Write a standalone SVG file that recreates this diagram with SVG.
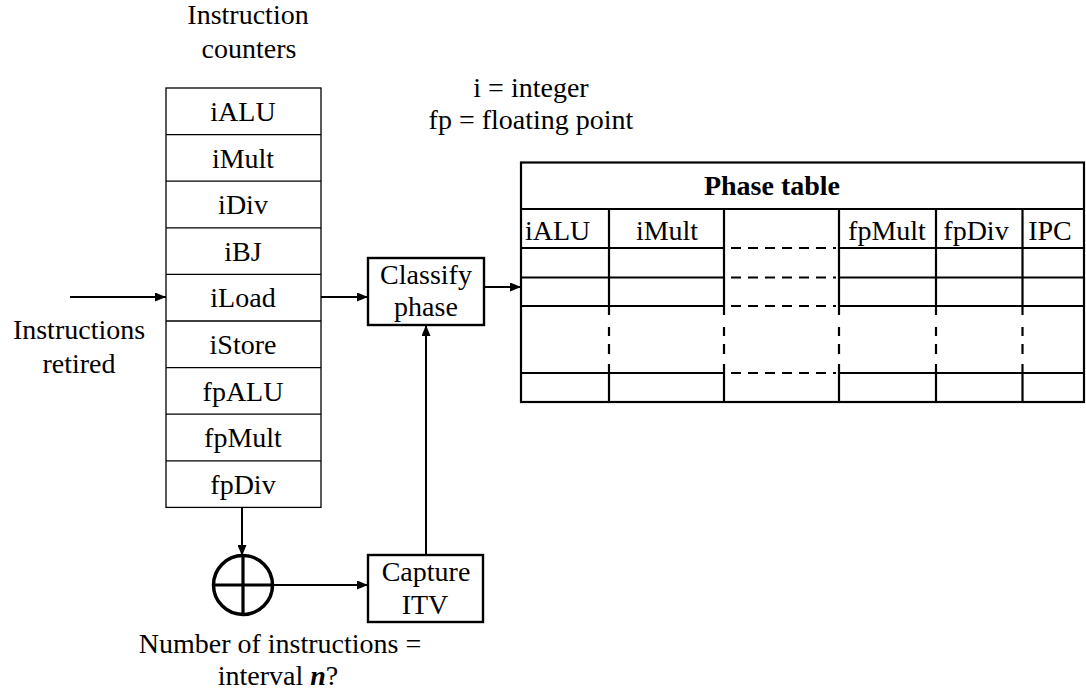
<svg xmlns="http://www.w3.org/2000/svg" width="1086" height="694" viewBox="0 0 1086 694" font-family="'Liberation Serif', 'DejaVu Serif', serif">
  <defs>
    <marker id="arrow" viewBox="0 0 11 9" refX="11" refY="4.5" markerWidth="11" markerHeight="9" markerUnits="userSpaceOnUse" orient="auto">
      <path d="M0,0 L11,4.5 L0,9 Z" fill="#000"/>
    </marker>
  </defs>
  <style>
    text { font-family: 'Liberation Serif', 'DejaVu Serif', serif; font-size: 28px; fill: #000; }
    .c { text-anchor: middle; }
    .b { font-weight: bold; }
    .thin { fill: none; stroke: #000; stroke-width: 1.3; }
    .box { fill: #fff; stroke: #000; stroke-width: 2.4; }
    .tl { fill: none; stroke: #000; stroke-width: 2.2; }
    .dash { fill: none; stroke: #000; stroke-width: 2.2; stroke-dasharray: 10 7; }
    .vdash { fill: none; stroke: #000; stroke-width: 2.2; stroke-dasharray: 9 12 9 8 10 10 10; }
    .wire { fill: none; stroke: #000; stroke-width: 2; }
  </style>
  <rect width="1086" height="694" fill="#fff"/>

  <!-- captions -->
  <g id="caption-counters">
    <text class="c" x="248" y="24">Instruction</text>
    <text class="c" x="249" y="58">counters</text>
  </g>
  <g id="legend">
    <text class="c" x="531" y="97">i = integer</text>
    <text class="c" x="531" y="129">fp  = floating point</text>
  </g>
  <g id="caption-input">
    <text class="c" x="79" y="339">Instructions</text>
    <text class="c" x="79" y="373">retired</text>
  </g>

  <!-- instruction counter stack -->
  <g id="counters">
    <rect class="thin" x="166" y="88" width="155" height="419.4"/>
    <path class="thin" d="M166,134.6H321 M166,181.2H321 M166,227.8H321 M166,274.4H321 M166,321H321 M166,367.6H321 M166,414.2H321 M166,460.8H321"/>
    <text class="c" x="243" y="121">iALU</text>
    <text class="c" x="243" y="168">iMult</text>
    <text class="c" x="243" y="214">iDiv</text>
    <text class="c" x="243" y="261">iBJ</text>
    <text class="c" x="243" y="307">iLoad</text>
    <text class="c" x="243" y="354">iStore</text>
    <text class="c" x="243" y="401">fpALU</text>
    <text class="c" x="243" y="447">fpMult</text>
    <text class="c" x="243" y="494">fpDiv</text>
  </g>

  <!-- classifier -->
  <g id="classify">
    <rect class="box" x="368" y="258" width="116" height="67"/>
    <text class="c" x="426" y="284">Classify</text>
    <text class="c" x="426" y="316">phase</text>
  </g>

  <!-- interval capture -->
  <g id="capture">
    <rect class="box" x="368" y="555" width="115" height="67"/>
    <text class="c" x="426" y="581">Capture</text>
    <text class="c" x="425" y="614">ITV</text>
  </g>

  <!-- summing junction -->
  <g id="adder">
    <circle cx="243" cy="585" r="29.5" fill="#fff" stroke="#000" stroke-width="3.5"/>
    <path d="M243,556V614 M214,585H272" stroke="#000" stroke-width="3.2"/>
    <text class="c" x="280" y="653">Number of instructions =</text>
    <text class="c" x="278" y="685">interval <tspan class="b" font-style="italic">n</tspan>?</text>
  </g>

  <!-- phase table -->
  <g id="phase-table">
    <rect class="tl" x="521" y="162.5" width="563" height="239.5"/>
    <text class="c b" x="772" y="195">Phase table</text>
    <path class="tl" d="M521,209H1084"/>
    <!-- column dividers -->
    <path class="tl" d="M609,209V306 M609,373V402 M724,209V306 M724,373V402 M839,209V306 M839,373V402 M936,209V306 M936,373V402 M1022.5,209V306 M1022.5,373V402"/>
    <path class="vdash" d="M609,306V373 M724,306V373 M839,306V373 M936,306V373 M1022.5,306V373"/>
    <!-- row lines -->
    <path class="tl" d="M521,248H724 M839,248H1084 M521,277.5H724 M839,277.5H1084 M521,306H724 M839,306H1084 M521,373H724 M839,373H1084"/>
    <path class="dash" d="M731,248H836 M731,277.5H836 M731,306H836 M731,373H836"/>
    <text x="525" y="240">iALU</text>
    <text class="c" x="667" y="240">iMult</text>
    <text class="c" x="887" y="240">fpMult</text>
    <text class="c" x="976" y="240">fpDiv</text>
    <text class="c" x="1050" y="240">IPC</text>
  </g>

  <!-- connectors -->
  <g id="connectors">
    <path class="wire" d="M70,297H166" marker-end="url(#arrow)"/>
    <path class="wire" d="M321,297H368" marker-end="url(#arrow)"/>
    <path class="wire" d="M484,287H521" marker-end="url(#arrow)"/>
    <path class="wire" d="M242,507.4V556" marker-end="url(#arrow)"/>
    <path class="wire" d="M272,585H368" marker-end="url(#arrow)"/>
    <path class="wire" d="M426,555V325" marker-end="url(#arrow)"/>
  </g>
</svg>
